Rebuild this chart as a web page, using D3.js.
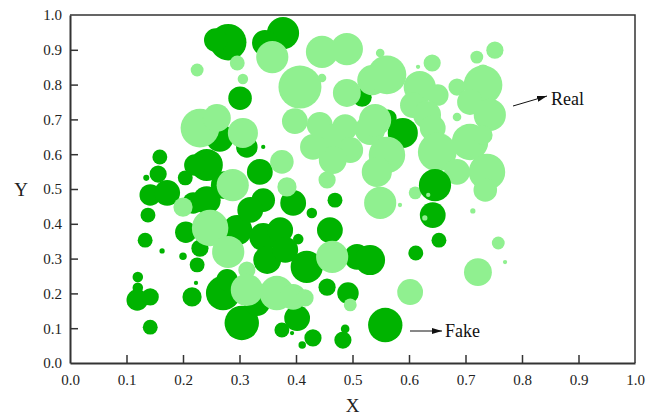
<!DOCTYPE html>
<html>
<head>
<meta charset="utf-8">
<script src="https://cdn.jsdelivr.net/npm/d3@7"></script>
<style>
  body { margin: 0; background: #fff; }
  svg { display: block; font-family: "Liberation Serif", "Times New Roman", serif; }
</style>
</head>
<body>
<div class="chartWrap"></div>
<script>
// bubble data, drawn in this order (later ones on top)
// group: 0 = Fake, 1 = Real
var pointX = [
  0.280, 0.258, 0.377, 0.345, 0.301, 0.517, 0.265, 0.313, 0.342, 0.159,
  0.156, 0.242, 0.204, 0.135, 0.336, 0.142, 0.172, 0.138, 0.218, 0.242,
  0.205, 0.133, 0.163, 0.200, 0.225, 0.230, 0.296, 0.342, 0.342, 0.395,
  0.372, 0.404, 0.428, 0.469, 0.460, 0.508, 0.419, 0.349, 0.271, 0.278,
  0.304, 0.331, 0.402, 0.375, 0.393, 0.430, 0.411, 0.483, 0.487, 0.492,
  0.455, 0.119, 0.142, 0.120, 0.120, 0.142, 0.216, 0.223, 0.531, 0.558,
  0.653, 0.612, 0.274, 0.221, 0.381, 0.319,
  0.358, 0.296, 0.225, 0.306, 0.446, 0.490, 0.407, 0.446, 0.490, 0.535,
  0.230, 0.260, 0.306, 0.398, 0.442, 0.487, 0.469, 0.496, 0.531, 0.375,
  0.288, 0.384, 0.455, 0.549, 0.561, 0.641, 0.616, 0.720, 0.752, 0.731,
  0.619, 0.651, 0.685, 0.731, 0.708, 0.743, 0.685, 0.607, 0.632, 0.642,
  0.589, 0.563,
  0.540, 0.561, 0.650, 0.708, 0.731, 0.738, 0.685, 0.200, 0.248, 0.280,
  0.464, 0.313, 0.313, 0.366, 0.395, 0.416, 0.496, 0.549, 0.611, 0.713,
  0.735, 0.758, 0.770, 0.722, 0.602, 0.584, 0.543, 0.465, 0.430,
  0.646, 0.642, 0.628, 0.634
];
var pointY = [
  0.922, 0.928, 0.948, 0.920, 0.761, 0.764, 0.647, 0.621, 0.621, 0.592,
  0.543, 0.569, 0.532, 0.532, 0.549, 0.483, 0.489, 0.425, 0.460, 0.468,
  0.376, 0.353, 0.322, 0.307, 0.282, 0.330, 0.382, 0.362, 0.468, 0.460,
  0.382, 0.356, 0.431, 0.468, 0.382, 0.305, 0.276, 0.296, 0.201, 0.239,
  0.115, 0.172, 0.129, 0.095, 0.086, 0.072, 0.052, 0.066, 0.098, 0.201,
  0.218, 0.181, 0.190, 0.216, 0.247, 0.103, 0.190, 0.230, 0.296, 0.109,
  0.353, 0.316, 0.511, 0.569, 0.325, 0.440,
  0.879, 0.862, 0.842, 0.816, 0.894, 0.902, 0.793, 0.819, 0.776, 0.813,
  0.675, 0.704, 0.661, 0.695, 0.684, 0.678, 0.641, 0.612, 0.670, 0.578,
  0.511, 0.506, 0.526, 0.891, 0.828, 0.862, 0.851, 0.879, 0.899, 0.836,
  0.793, 0.770, 0.793, 0.799, 0.750, 0.713, 0.707, 0.741, 0.713, 0.675,
  0.661, 0.704,
  0.698, 0.598, 0.606, 0.635, 0.655, 0.549, 0.549, 0.448, 0.388, 0.319,
  0.305, 0.267, 0.210, 0.201, 0.190, 0.187, 0.167, 0.460, 0.489, 0.437,
  0.497, 0.345, 0.290, 0.261, 0.204, 0.454, 0.549, 0.583, 0.621,
  0.511, 0.425, 0.417, 0.483
];
var pointSize = [
  72, 30, 56, 36, 30, 20, 42, 25, 1, 12,
  16, 56, 12, 2, 36, 25, 36, 12, 25, 42,
  25, 12, 1.5, 3, 12, 16, 49, 42, 30, 36,
  36, 6, 6, 12, 36, 36, 56, 42, 64, 25,
  64, 36, 36, 12, 1, 16, 3, 16, 4, 25,
  16, 25, 16, 6, 6, 12, 20, 1, 49, 64,
  12, 12, 42, 25, 36, 36,
  56, 12, 9, 6, 56, 56, 100, 4, 42, 49,
  81, 42, 49, 36, 36, 36, 56, 36, 49, 30,
  56, 20, 16, 4, 81, 16, 1, 9, 16, 12,
  56, 25, 16, 81, 36, 56, 4, 36, 42, 36,
  49, 16,
  56, 72, 81, 72, 20, 72, 36, 20, 72, 56,
  56, 16, 56, 64, 36, 16, 9, 56, 9, 1.5,
  30, 9, 1, 42, 36, 1, 49, 42, 36,
  56, 36, 1.5, 1
];
var pointGroup = [
  0, 0, 0, 0, 0, 0, 0, 0, 0, 0,
  0, 0, 0, 0, 0, 0, 0, 0, 0, 0,
  0, 0, 0, 0, 0, 0, 0, 0, 0, 0,
  0, 0, 0, 0, 0, 0, 0, 0, 0, 0,
  0, 0, 0, 0, 0, 0, 0, 0, 0, 0,
  0, 0, 0, 0, 0, 0, 0, 0, 0, 0,
  0, 0, 0, 0, 0, 0,
  1, 1, 1, 1, 1, 1, 1, 1, 1, 1,
  1, 1, 1, 1, 1, 1, 1, 1, 1, 1,
  1, 1, 1, 1, 1, 1, 1, 1, 1, 1,
  1, 1, 1, 1, 1, 1, 1, 1, 1, 1,
  0, 0,
  1, 1, 1, 1, 1, 1, 1, 1, 1, 1,
  1, 1, 1, 1, 1, 1, 1, 1, 1, 1,
  1, 1, 1, 1, 1, 1, 1, 1, 1,
  0, 0, 1, 1
];
var groupNames = ['Fake', 'Real'];
var tickValues = [0, 0.1, 0.2, 0.3, 0.4, 0.5, 0.6, 0.7, 0.8, 0.9, 1.0];

var width = 648, height = 419;
var margin = {left: 70, right: 13, top: 15, bottom: 56};
var colors = ['#00b300', '#90f090'];

var svg = d3.select('.chartWrap')
  .append('svg')
  .attr('width', width)
  .attr('height', height);

var x = d3.scaleLinear().domain([0, 1]).range([margin.left, width - margin.right]);
var y = d3.scaleLinear().domain([0, 1]).range([height - margin.bottom, margin.top]);
var r = d3.scaleSqrt().domain([0, 100]).range([0, 21.5]);

var points = pointX.map(function(d, i){
  return {x: d, y: pointY[i], size: pointSize[i], group: pointGroup[i]};
});

svg.append('g')
  .selectAll('circle')
  .data(points)
  .enter()
    .append('circle')
    .attr('cx', function(d){ return x(d.x); })
    .attr('cy', function(d){ return y(d.y); })
    .attr('r', function(d){ return r(d.size); })
    .style('fill', function(d){ return colors[d.group]; });

// frame (top and right)
svg.append('path')
  .attr('d', 'M' + x(0) + ',' + y(1) + 'H' + x(1) + 'V' + y(0))
  .style('fill', 'none')
  .style('stroke', '#333')
  .style('stroke-width', 1.5);

var fmt = d3.format('.1f');

var xAxis = svg.append('g')
  .attr('transform', 'translate(0,' + y(0) + ')')
  .call(d3.axisBottom(x).tickValues(tickValues).tickFormat(fmt)
    .tickSizeInner(-8).tickSizeOuter(0).tickPadding(11));

var yAxis = svg.append('g')
  .attr('transform', 'translate(' + x(0) + ',0)')
  .call(d3.axisLeft(y).tickValues(tickValues).tickFormat(fmt)
    .tickSizeInner(-8).tickSizeOuter(0).tickPadding(8));

[xAxis, yAxis].forEach(function(a){
  a.select('.domain').style('stroke', '#333').style('stroke-width', 2);
  a.selectAll('.tick line').style('stroke', '#333').style('stroke-width', 1.5);
  a.selectAll('.tick text')
    .style('font-family', '"Liberation Serif", serif')
    .style('font-size', '15px')
    .style('fill', '#222');
});
xAxis.selectAll('.tick').filter(function(d){ return d === 0 || d === 1; })
  .select('line').remove();
yAxis.selectAll('.tick').filter(function(d){ return d === 0 || d === 1; })
  .select('line').remove();

svg.append('text')
  .attr('x', x(0.5))
  .attr('y', 412)
  .attr('text-anchor', 'middle')
  .style('font-size', '19px')
  .style('fill', '#222')
  .text('X');

svg.append('text')
  .attr('x', 21)
  .attr('y', y(0.5) + 7)
  .attr('text-anchor', 'middle')
  .style('font-size', '19px')
  .style('fill', '#222')
  .text('Y');

// arrows with labels
svg.append('defs').append('marker')
  .attr('id', 'head')
  .attr('viewBox', '0 0 10 6')
  .attr('refX', 10).attr('refY', 3)
  .attr('markerWidth', 10).attr('markerHeight', 6)
  .attr('markerUnits', 'userSpaceOnUse')
  .attr('orient', 'auto')
  .append('path')
    .attr('d', 'M0,0L10,3L0,6Z')
    .style('fill', '#111');

var notes = [
  {name: groupNames[1], x1: 513, y1: 106, x2: 547, y2: 96, tx: 551, ty: 105},
  {name: groupNames[0], x1: 410, y1: 331, x2: 442, y2: 331, tx: 445, ty: 337}
];

svg.selectAll('.note')
  .data(notes)
  .enter()
    .append('line')
    .attr('class', 'note')
    .attr('x1', function(d){ return d.x1; })
    .attr('y1', function(d){ return d.y1; })
    .attr('x2', function(d){ return d.x2; })
    .attr('y2', function(d){ return d.y2; })
    .style('stroke', '#111')
    .style('stroke-width', 1)
    .attr('marker-end', 'url(#head)');

svg.selectAll('.noteText')
  .data(notes)
  .enter()
    .append('text')
    .attr('class', 'noteText')
    .attr('x', function(d){ return d.tx; })
    .attr('y', function(d){ return d.ty; })
    .style('font-size', '18px')
    .style('fill', '#111')
    .text(function(d){ return d.name; });
</script>
</body>
</html>
